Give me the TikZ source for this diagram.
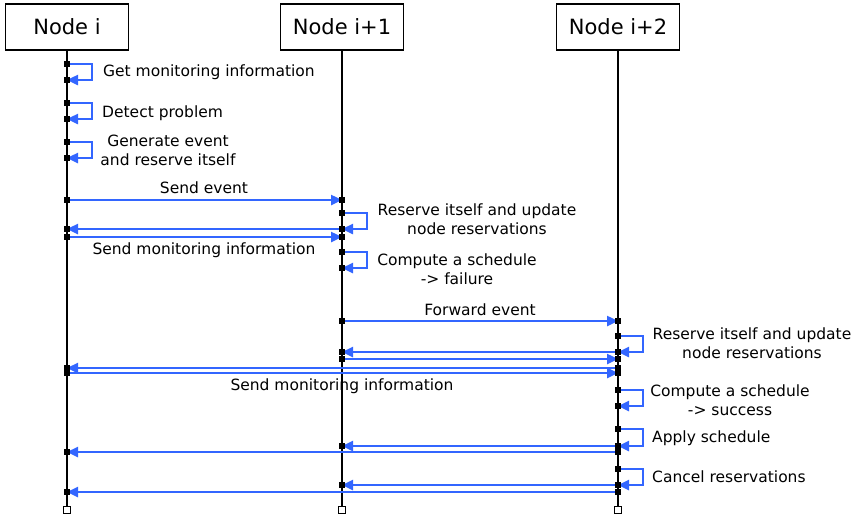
\documentclass[tikz,border=0pt]{standalone}
\usepackage{fontspec}
\setmainfont{DejaVu Sans}
\usetikzlibrary{arrows.meta}
\definecolor{msgblue}{RGB}{51,102,255}
\tikzset{
  x=1pt, y=-1pt,
  actor/.style={draw, line width=1.2pt, minimum width=123pt, minimum height=46pt, font=\fontsize{21}{24}\selectfont, inner sep=0pt},
  life/.style={line width=1.1pt},
  msg/.style={draw=msgblue, line width=2.4pt, -{Triangle[length=11pt,width=10pt]}},
  lbl/.style={font=\fontsize{15.5}{19}\selectfont, inner sep=0pt, align=center},
  dot/.style={fill=black, minimum size=5pt, inner sep=0pt},
  endbox/.style={draw, fill=white, line width=0.8pt, minimum size=7pt, inner sep=0pt}
}
\begin{document}
\begin{tikzpicture}
\useasboundingbox (0,0) rectangle (858,517);
% actors
\node[actor] (A) at (67,27) {Node i};
\node[actor] (B) at (342,27) {Node i+1};
\node[actor] (C) at (618,27) {Node i+2};
\node[endbox] (Ae) at (67,510) {};
\node[endbox] (Be) at (342,510) {};
\node[endbox] (Ce) at (618,510) {};
\draw[life] (A.south) -- (Ae.north);
\draw[life] (B.south) -- (Be.north);
\draw[life] (C.south) -- (Ce.north);
% endpoints
\foreach \n/\x/\y in {a1/67/64, a2/67/80, a3/67/103, a4/67/119, a5/67/142, a6/67/158,
  a7/67/200, b7/342/200, b8/342/213, b9/342/229, a9/67/229, a10/67/237, b10/342/237,
  b11/342/252, b12/342/268, b13/342/321, c13/618/321, c14/618/336, c15/618/352, b15/342/352,
  b16/342/359, c16/618/359, c17/618/368, a17/67/368, a18/67/373, c18/618/373,
  c19/618/390, c20/618/406, c21/618/429, c22/618/446, b22/342/446, c23/618/452, a23/67/452,
  c24/618/469, c25/618/485, b25/342/485, c26/618/492, a26/67/492}
  {\node[dot] (\n) at (\x,\y) {};}
% self messages
\draw[msg] (a1.center) -- ++(25,0) |- (a2.center);
\draw[msg] (a3.center) -- ++(25,0) |- (a4.center);
\draw[msg] (a5.center) -- ++(25,0) |- (a6.center);
\draw[msg] (b8.center) -- ++(25,0) |- (b9.center);
\draw[msg] (b11.center) -- ++(25,0) |- (b12.center);
\draw[msg] (c14.center) -- ++(25,0) |- (c15.center);
\draw[msg] (c19.center) -- ++(25,0) |- (c20.center);
\draw[msg] (c21.center) -- ++(25,0) |- (c22.center);
\draw[msg] (c24.center) -- ++(25,0) |- (c25.center);
% messages
\draw[msg] (a7.center) -- (b7.center);
\draw[msg] (b9.center) -- (a9.center);
\draw[msg] (a10.center) -- (b10.center);
\draw[msg] (b13.center) -- (c13.center);
\draw[msg] (c15.center) -- (b15.center);
\draw[msg] (b16.center) -- (c16.center);
\draw[msg] (c17.center) -- (a17.center);
\draw[msg] (a18.center) -- (c18.center);
\draw[msg] (c22.center) -- (b22.center);
\draw[msg] (c23.center) -- (a23.center);
\draw[msg] (c25.center) -- (b25.center);
\draw[msg] (c26.center) -- (a26.center);
% redraw dots on top
\foreach \n in {a1,a2,a3,a4,a5,a6,a7,b7,b8,b9,a9,a10,b10,b11,b12,b13,c13,c14,c15,b15,b16,c16,c17,a17,a18,c18,c19,c20,c21,c22,b22,c23,a23,c24,c25,b25,c26,a26}
  {\fill (\n.south west) rectangle (\n.north east);}
% labels
\node[lbl, anchor=west] (l1) at (103,72) {Get monitoring information};
\node[lbl, anchor=west] (l2) at (102,113) {Detect problem};
\node[lbl] (l3) at (168,150) {Generate event\\and reserve itself};
\node[lbl] (l4) at (204,188) {Send event};
\node[lbl] (l5) at (477,219) {Reserve itself and update\\node reservations};
\node[lbl] (l6) at (204,250) {Send monitoring information};
\node[lbl] (l7) at (457,269) {Compute a schedule\\-> failure};
\node[lbl] (l8) at (480,310) {Forward event};
\node[lbl] (l9) at (752,343) {Reserve itself and update\\node reservations};
\node[lbl] (l10) at (342,386) {Send monitoring information};
\node[lbl] (l11) at (730,400) {Compute a schedule\\-> success};
\node[lbl, anchor=west] (l12) at (652,438) {Apply schedule};
\node[lbl, anchor=west] (l13) at (652,477) {Cancel reservations};
\end{tikzpicture}
\end{document}
